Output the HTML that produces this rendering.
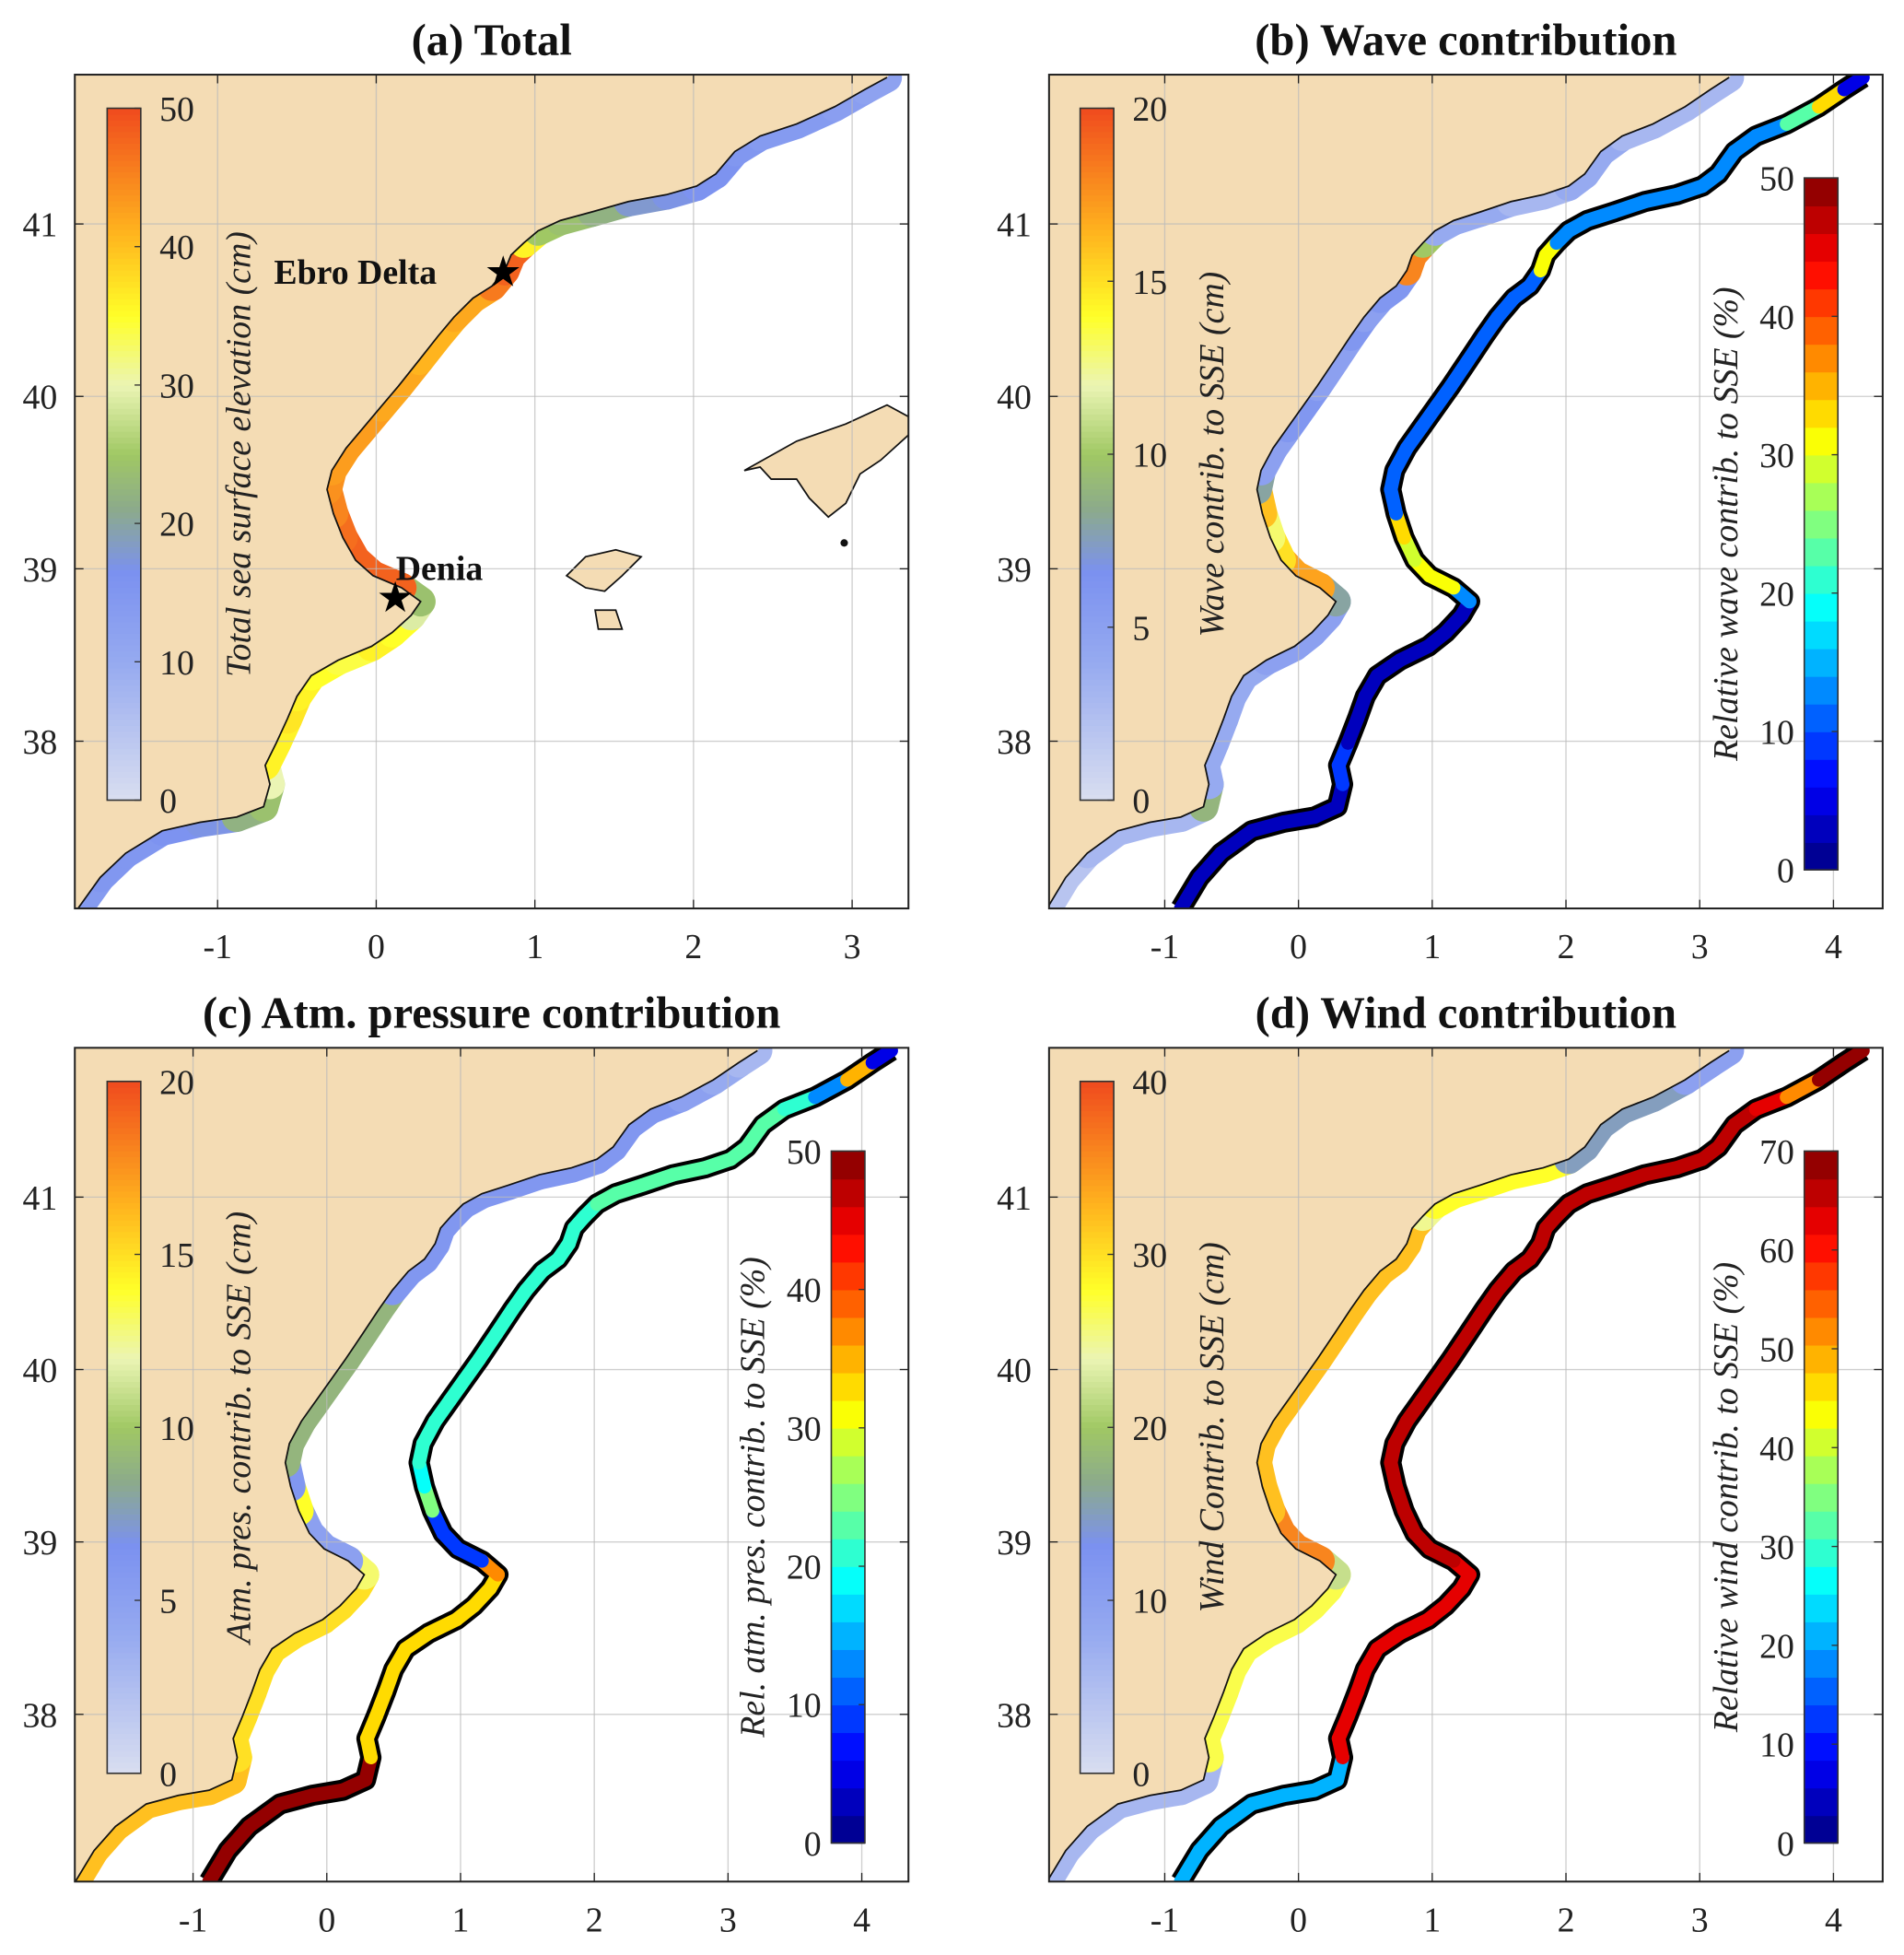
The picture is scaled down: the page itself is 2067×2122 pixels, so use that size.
<!DOCTYPE html>
<html><head><meta charset="utf-8"><style>
html,body{margin:0;padding:0;background:#fff}
svg{display:block}
text{font-family:"Liberation Serif",serif;fill:#222}
</style></head><body>
<svg id="fig" width="2067" height="2122" viewBox="0 0 1530 1571" xmlns="http://www.w3.org/2000/svg"></svg>
<script>
// coastline (lon, lat)
const coastLon=[-1.88,-1.74,-1.58,-1.35,-1.11,-0.88,-0.71,-0.67,-0.70,-0.63,-0.56,-0.50,-0.41,-0.24,-0.03,0.10,0.22,0.28,0.16,-0.02,-0.13,-0.21,-0.27,-0.31,-0.28,-0.19,-0.08,0.03,0.14,0.27,0.39,0.49,0.61,0.73,0.81,0.85,0.93,1.02,1.16,1.36,1.59,1.83,2.02,2.14,2.26,2.42,2.65,2.89,3.08,3.22];
const coastLat=[37.03,37.21,37.35,37.48,37.53,37.56,37.62,37.75,37.86,37.99,38.13,38.26,38.38,38.47,38.55,38.63,38.73,38.81,38.89,38.96,39.05,39.18,39.32,39.46,39.57,39.70,39.82,39.94,40.06,40.21,40.35,40.46,40.57,40.64,40.73,40.82,40.89,40.96,41.02,41.07,41.13,41.17,41.22,41.29,41.42,41.51,41.58,41.68,41.78,41.85];
const ibizaLon=[1.20,1.32,1.51,1.67,1.55,1.44,1.32], ibizaLat=[38.96,39.07,39.11,39.07,38.96,38.87,38.89];
const formLon=[1.38,1.51,1.55,1.40], formLat=[38.76,38.76,38.65,38.65];
const mallLon=[2.32,2.65,2.96,3.22,3.36,3.36,3.18,3.05,2.96,2.85,2.73,2.65,2.49,2.42], mallLat=[39.57,39.74,39.84,39.95,39.88,39.78,39.63,39.55,39.38,39.30,39.41,39.52,39.52,39.59];
// per-segment values
const totalCm=[14,15,15,16,17,22,24,30,36,36,37,36,35,34,36,35,29,24,48,48,48,47,45,44,43,43,43,42,42,41,41,42,42,46,48,48,36,25,24,22,18,17,16,16,15,14,14,13,12,12];
const waveCm=[2,2,3,3,3,3,9,4,4,4,4,4,4,5,5,5,5,8,17,17,15,13,16,8,5,5,6,6,5,5,6,5,6,6,18,18,10,4,4,4,3,3,4,4,4,3,3,3,3,3];
const wavePct=[2,2,2,2,2,2,2,8,8,3,3,3,3,3,3,3,3,12,30,30,28,32,10,10,10,10,10,10,10,10,10,10,10,10,30,30,12,12,12,12,12,12,13,13,13,13,22,32,5,3];
const atmCm=[16,16,16,16,16,16,16,15,15,15,15,15,15,15,15,15,15,13,5,5,5,14,6,9,9,9,9,9,9,9,9,6,6,6,6,6,6,6,6,6,6,6,6,6,6,6,5,4,3,3];
const atmPct=[50,50,50,50,50,50,50,32,32,32,32,32,32,32,32,32,32,36,8,8,8,25,18,20,20,20,20,20,20,20,20,20,20,20,20,20,20,23,23,23,23,23,23,23,23,20,12,35,5,5];
const windCm=[6,6,6,6,6,6,6,27,27,27,27,27,27,27,27,27,27,22,36,36,36,32,32,32,32,32,32,32,32,32,32,32,32,32,32,32,25,28,28,28,28,28,15,15,15,15,15,10,10,10];
const windPct=[22,22,22,22,22,22,22,62,62,62,62,62,62,62,62,62,62,62,66,66,66,67,67,67,67,67,67,67,67,67,67,67,67,67,67,67,67,67,67,67,67,67,67,67,67,62,52,68,68,68];
const latTicks=[38,39,40,41];
const lonTicksA=[-1,0,1,2,3], lonTicksB=[-1,0,1,2,3,4];
const NS="http://www.w3.org/2000/svg", svg=document.getElementById('fig');
function el(t,a,p){const e=document.createElementNS(NS,t);for(const k in a)e.setAttribute(k,a[k]);(p||svg).appendChild(e);return e;}
function lerp(a,b,t){return a+(b-a)*t}
const seqStops=[[0,[217,222,240]],[0.2,[150,170,240]],[0.33,[123,145,240]],[0.42,[140,170,140]],[0.5,[160,200,100]],[0.6,[235,245,180]],[0.7,[255,255,40]],[0.82,[255,180,30]],[1,[240,75,30]]];
function seq(t){t=Math.max(0,Math.min(1,t));for(let i=1;i<seqStops.length;i++){if(t<=seqStops[i][0]){const a=seqStops[i-1],b=seqStops[i];const u=(t-a[0])/(b[0]-a[0]);return `rgb(${a[1].map((v,j)=>Math.round(lerp(v,b[1][j],u))).join(',')})`;}}return 'rgb(240,75,30)';}
function jet(t){t=Math.max(0,Math.min(0.999,t));t=(Math.floor(t*25)+0.5)/25;const c=x=>Math.round(255*Math.max(0,Math.min(1,1.5-Math.abs(x))));return `rgb(${c(4*t-3)},${c(4*t-2)},${c(4*t-1)})`;}
const panels=[
 {id:'a',title:'(a) Total',x:60,y:60,lonMin:-1.9,lonMax:3.355,lonTicks:lonTicksA,inner:totalCm,innerMax:50,innerTicks:[0,10,20,30,40,50],innerLabel:'Total  sea  surface  elevation (cm)',cbx:86,islands:true},
 {id:'b',title:'(b) Wave contribution',x:843,y:60,lonMin:-1.865,lonMax:4.368,lonTicks:lonTicksB,inner:waveCm,innerMax:20,innerTicks:[0,5,10,15,20],innerLabel:'Wave  contrib. to SSE (cm)',cbx:868,outer:wavePct,outerMax:50,outerTicks:[0,10,20,30,40,50],outerLabel:'Relative  wave  contrib. to SSE (%)',ocbx:1450,ocby:143},
 {id:'c',title:'(c) Atm. pressure contribution',x:60,y:842,lonMin:-1.884,lonMax:4.349,lonTicks:lonTicksB,inner:atmCm,innerMax:20,innerTicks:[0,5,10,15,20],innerLabel:'Atm.  pres.  contrib. to SSE (cm)',cbx:86,outer:atmPct,outerMax:50,outerTicks:[0,10,20,30,40,50],outerLabel:'Rel.  atm.  pres.  contrib. to SSE (%)',ocbx:668,ocby:925},
 {id:'d',title:'(d) Wind contribution',x:843,y:842,lonMin:-1.865,lonMax:4.368,lonTicks:lonTicksB,inner:windCm,innerMax:40,innerTicks:[0,10,20,30,40],innerLabel:'Wind Contrib. to SSE (cm)',cbx:868,outer:windPct,outerMax:70,outerTicks:[0,10,20,30,40,50,60,70],outerLabel:'Relative  wind  contrib. to SSE (%)',ocbx:1450,ocby:925}
];
const W=670,H=670,latMin=37.03,latMax=41.866;
panels.forEach(p=>{
 const g=el('g',{});
 
 
 const X=lon=>p.x+(lon-p.lonMin)/(p.lonMax-p.lonMin)*W;
 const Y=lat=>p.y+(latMax-lat)/(latMax-latMin)*H;
 const cp=el('clipPath',{id:'clip'+p.id},g);el('rect',{x:p.x,y:p.y,width:W,height:H},cp);
 const m=el('g',{'clip-path':`url(#clip${p.id})`},g);
 const ib=el('g',{},m);
 for(let i=0;i<coastLon.length-1;i++){
  el('line',{x1:X(coastLon[i]),y1:Y(coastLat[i]),x2:X(coastLon[i+1]),y2:Y(coastLat[i+1]),stroke:seq(p.inner[i]/p.innerMax),'stroke-width':24,'stroke-linecap':'round'},ib);
 }
 let pts=coastLon.map((l,i)=>X(l)+','+Y(coastLat[i]));
 pts.push(X(3.6)+','+Y(42.2));pts.push(X(-2.5)+','+Y(42.2));pts.push(X(-2.5)+','+Y(36.8));pts.push(X(-1.95)+','+Y(36.8));
 const land=el('polygon',{points:pts.join(' '),fill:'#f4dcb4'},m);
 
 if(p.islands){
  [[ibizaLon,ibizaLat,'ibiza'],[formLon,formLat,'formentera'],[mallLon,mallLat,'mallorca']].forEach(([lo,la,n])=>{
   const isl=el('polygon',{points:lo.map((l,i)=>X(l)+','+Y(la[i])).join(' '),fill:'#f4dcb4',stroke:'#111','stroke-width':1.3},m);
   
  });
  el('circle',{cx:X(2.95),cy:Y(39.15),r:3,fill:'#111'},m);
 }
 p.lonTicks.forEach(t=>el('line',{x1:X(t),x2:X(t),y1:p.y,y2:p.y+H,stroke:'#bbb','stroke-width':1,opacity:0.7},m));
 latTicks.forEach(t=>el('line',{x1:p.x,x2:p.x+W,y1:Y(t),y2:Y(t),stroke:'#bbb','stroke-width':1,opacity:0.7},m));
 el('polyline',{points:coastLon.map((l,i)=>X(l)+','+Y(coastLat[i])).join(' '),fill:'none',stroke:'#111','stroke-width':1.3},m);
 if(p.outer){
  const ob=el('g',{},m);
  el('polyline',{points:coastLon.map((l,i)=>X(l+1)+','+Y(coastLat[i])).join(' '),fill:'none',stroke:'#000','stroke-width':17,'stroke-linejoin':'round'},ob);
  for(let i=0;i<coastLon.length-1;i++){
   el('line',{x1:X(coastLon[i]+1),y1:Y(coastLat[i]),x2:X(coastLon[i+1]+1),y2:Y(coastLat[i+1]),stroke:jet(p.outer[i]/p.outerMax),'stroke-width':11,'stroke-linecap':'round'},ob);
  }
 }
 if(p.islands){
  const star=(lon,lat,n)=>{const s=el('text',{x:X(lon),y:Y(lat)+11,'text-anchor':'middle','font-size':34,style:'fill:#000'},g);s.textContent='★';};
  star(0.8,40.72,'ebro-star');star(0.12,38.83,'denia-star');
  const t1=el('text',{x:220,y:228,'font-size':28,'font-weight':'bold',style:'fill:#111'},g);t1.textContent='Ebro Delta';
  const t2=el('text',{x:318,y:466,'font-size':28,'font-weight':'bold',style:'fill:#111'},g);t2.textContent='Denia';
 }
 el('rect',{x:p.x,y:p.y,width:W,height:H,fill:'none',stroke:'#222','stroke-width':1.5},g);
 p.lonTicks.forEach(t=>{const x=X(t);el('line',{x1:x,x2:x,y1:p.y+H,y2:p.y+H-7,stroke:'#222'},g);el('line',{x1:x,x2:x,y1:p.y,y2:p.y+7,stroke:'#222'},g);
  const tx=el('text',{x:x,y:p.y+H+40,'text-anchor':'middle','font-size':28},g);tx.textContent=t;});
 latTicks.forEach(t=>{const y=Y(t);el('line',{x1:p.x,x2:p.x+7,y1:y,y2:y,stroke:'#222'},g);el('line',{x1:p.x+W,x2:p.x+W-7,y1:y,y2:y,stroke:'#222'},g);
  const ty=el('text',{x:p.x-14,y:y+10,'text-anchor':'end','font-size':28},g);ty.textContent=t;});
 const tt=el('text',{x:p.x+W/2,y:p.y-16,'text-anchor':'middle','font-size':36,'font-weight':'bold',style:'fill:#111'},g);tt.textContent=p.title;
 function cbar(x,y,max,ticks,label,fn,left,name,steps){
  const cb=el('g',{},g);
  const h=556,w=27;
  for(let k=0;k<steps;k++){el('rect',{x:x,y:y+h-(k+1)*h/steps,width:w,height:h/steps+0.6,fill:fn((k+0.5)/steps)},cb);}
  el('rect',{x:x,y:y,width:w,height:h,fill:'none',stroke:'#333','stroke-width':1.2},cb);
  ticks.forEach(t=>{const yy=y+h-t/max*h;el('line',{x1:x+w-5,x2:x+w,y1:yy,y2:yy,stroke:'#333'},cb);
   const tl=el('text',{x:left?x-8:x+w+15,y:yy+10,'text-anchor':left?'end':'start','font-size':28},cb);tl.textContent=t;});
  const lx=left?x-54:x+w+88, ly=y+h/2;
  const lb=el('text',{x:lx,y:ly,'text-anchor':'middle','font-size':28,'font-style':'italic',transform:`rotate(-90 ${lx} ${ly})`},cb);lb.textContent=label;
 }
 cbar(p.cbx,p.y+27,p.innerMax,p.innerTicks,p.innerLabel,seq,false,'colorbar-absolute',120);
 if(p.outer) cbar(p.ocbx,p.ocby,p.outerMax,p.outerTicks,p.outerLabel,jet,true,'colorbar-relative',25);
});
</script>
</body></html>
